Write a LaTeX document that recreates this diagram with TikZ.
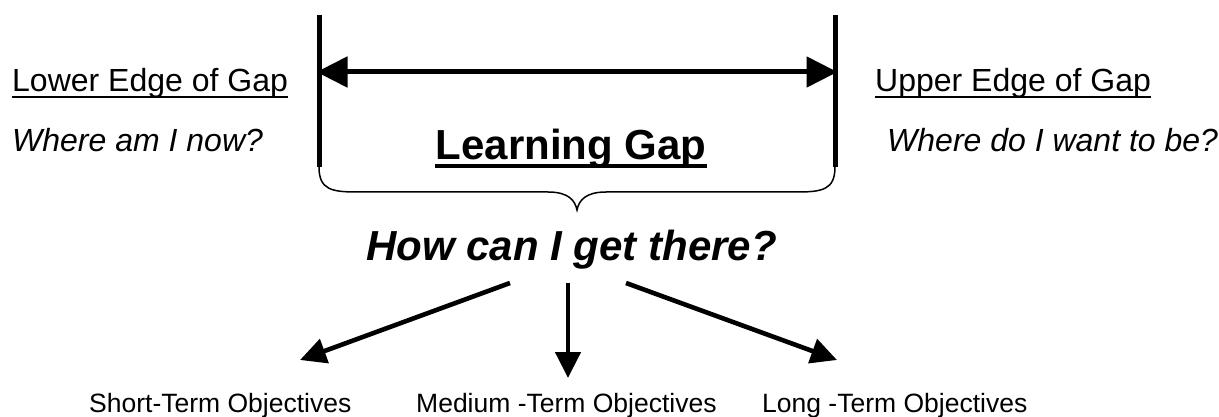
\documentclass[tikz,border=0pt]{standalone}
\usepackage{fontspec}
\setmainfont{Liberation Sans}
\usetikzlibrary{arrows.meta}
\begin{document}
\begin{tikzpicture}[x=1pt,y=-1pt,
  lbl/.style={inner sep=0pt,font=\fontsize{32}{38}\selectfont},
  lblit/.style={inner sep=0pt,font=\fontsize{32}{38}\selectfont\itshape},
  big/.style={inner sep=0pt,font=\fontsize{42}{50}\selectfont\bfseries},
  bigit/.style={inner sep=0pt,font=\fontsize{42}{50}\selectfont\bfseries\itshape},
  small/.style={inner sep=0pt,font=\fontsize{26.5}{32}\selectfont},
  bar/.style={line width=5pt},
  gaparrow/.style={line width=5pt,{Triangle[length=31pt,width=30pt]}-{Triangle[length=31pt,width=30pt]}},
  objarrow/.style={line width=4.6pt,-{Triangle[length=26pt,width=25pt]}},
  brace/.style={line width=1.5pt}]
\useasboundingbox (0,0) rectangle (1219,417);
% bars
\coordinate (lt) at (319,15); \coordinate (lb) at (319,167);
\coordinate (rt) at (835,15); \coordinate (rb) at (835,167);
\draw[bar] (lt) -- (lb);
\draw[bar] (rt) -- (rb);
\coordinate (la) at (316.5,72); \coordinate (ra) at (837.5,72);
\draw[gaparrow] (la) -- (ra);
% brace
\coordinate (tip) at (577,210);
\draw[brace] (lb) .. controls (319,190) and (332,192) .. (358,192) -- (548,192)
  .. controls (568,192) and (575,200) .. (tip)
  .. controls (579,200) and (586,192) .. (606,192) -- (796,192)
  .. controls (822,192) and (835,190) .. (rb);
% texts
\node[lbl,anchor=base west] (lower) at (12,92) {Lower Edge of Gap};
\draw[line width=2.5pt] ([yshift=-5pt]lower.base west) -- ([yshift=-5pt]lower.base east);
\node[lblit,anchor=base west] (wnow) at (12,152) {Where am I now?};
\node[lbl,anchor=base west] (upper) at (875,92) {Upper Edge of Gap};
\draw[line width=2.5pt] ([yshift=-5pt]upper.base west) -- ([yshift=-5pt]upper.base east);
\node[lblit,anchor=base west] (wwant) at (887,152) {Where do I want to be?};
\node[big,anchor=base] (gap) at (571,160) {Learning Gap};
\draw[line width=4pt] ([yshift=-6pt]gap.base west) -- ([yshift=-6pt]gap.base east);
\node[bigit,anchor=base west] (how) at (366,260) {How can I get there?};
% objectives
\node[small,anchor=base west] (short) at (89,412) {Short-Term Objectives};
\node[small,anchor=base west] (medium) at (416,412) {Medium -Term Objectives};
\node[small,anchor=base west] (long) at (762,412) {Long -Term Objectives};
\coordinate (s1) at (510,283); \coordinate (s2) at (568,283); \coordinate (s3) at (626,283);
\coordinate (e1) at (300,360); \coordinate (e2) at (568,378); \coordinate (e3) at (837,360);
\draw[objarrow] (s1) -- (e1);
\draw[objarrow] (s2) -- (e2);
\draw[objarrow] (s3) -- (e3);
\end{tikzpicture}
\end{document}
